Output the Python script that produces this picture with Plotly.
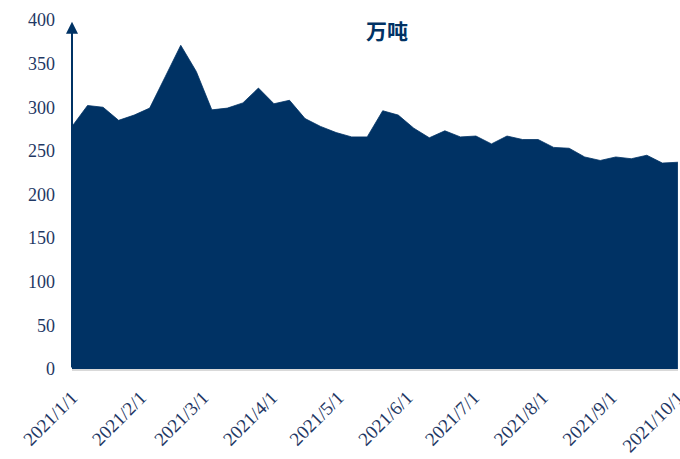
import pandas as pd
import plotly.graph_objects as go

dates = pd.date_range("2021-01-01", periods=40, freq="7D")
values = [278, 302, 300, 285, 291, 299, 335, 371, 341, 297,
          299, 305, 322, 304, 308, 287, 278, 271, 266, 266,
          296, 291, 276, 265, 273, 266, 267, 258, 267, 263,
          263, 254, 253, 243, 239, 243, 241, 245, 236, 237]

tick_dates = ["2021-01-01", "2021-02-01", "2021-03-01", "2021-04-01", "2021-05-01",
              "2021-06-01", "2021-07-01", "2021-08-01", "2021-09-01", "2021-10-01"]
tick_labels = ["2021/1/1", "2021/2/1", "2021/3/1", "2021/4/1", "2021/5/1",
               "2021/6/1", "2021/7/1", "2021/8/1", "2021/9/1", "2021/10/1"]
y_ticks = [0, 50, 100, 150, 200, 250, 300, 350, 400]
unit_label = "万吨"

NAVY = "#003264"
TEXT = "#1F3864"

fig = go.Figure()
fig.add_trace(go.Scatter(
    x=dates, y=values, mode="lines", fill="tozeroy",
    line=dict(color=NAVY, width=0.8), fillcolor=NAVY,
    hoverinfo="x+y", showlegend=False,
))

fig.update_layout(
    width=680, height=459,
    margin=dict(l=72, r=2, t=20, b=90, autoexpand=False),
    paper_bgcolor="white", plot_bgcolor="white",
    font=dict(family="Liberation Serif, Times New Roman, serif", color=TEXT, size=17),
    xaxis=dict(
        type="date",
        range=["2021-01-01", "2021-10-01 01:00"],
        tickvals=tick_dates, ticktext=tick_labels,
        tickangle=-45, tickfont=dict(size=19, color=TEXT),
        showgrid=False, zeroline=False,
        showline=True, linecolor="#d9d9d9", linewidth=2,
        ticks="", automargin=False, ticklabeloverflow="allow",
        ticklabelstandoff=8,
    ),
    yaxis=dict(
        range=[0, 400], tickvals=y_ticks,
        tickfont=dict(size=18, color=TEXT),
        showgrid=False, zeroline=False, showline=False,
        ticks="", ticklabelstandoff=16, automargin=False,
    ),
)

# y-axis arrow
fig.add_annotation(
    x="2021-01-01", y=398, ax="2021-01-01", ay=0,
    xref="x", yref="y", axref="x", ayref="y",
    showarrow=True, arrowhead=2, arrowsize=1.2, arrowwidth=2,
    arrowcolor=NAVY, text="",
)

fig.add_annotation(
    x=(387 - 72) / 606, y=(369 - 30) / 349, xref="paper", yref="paper",
    xanchor="center", yanchor="middle",
    text="<b>" + unit_label + "</b>", showarrow=False,
    font=dict(family="Noto Sans CJK SC", size=21, color=NAVY),
)

fig.write_html("out.html", config={"displayModeBar": False},
               post_script="document.body.style.margin='0';")
